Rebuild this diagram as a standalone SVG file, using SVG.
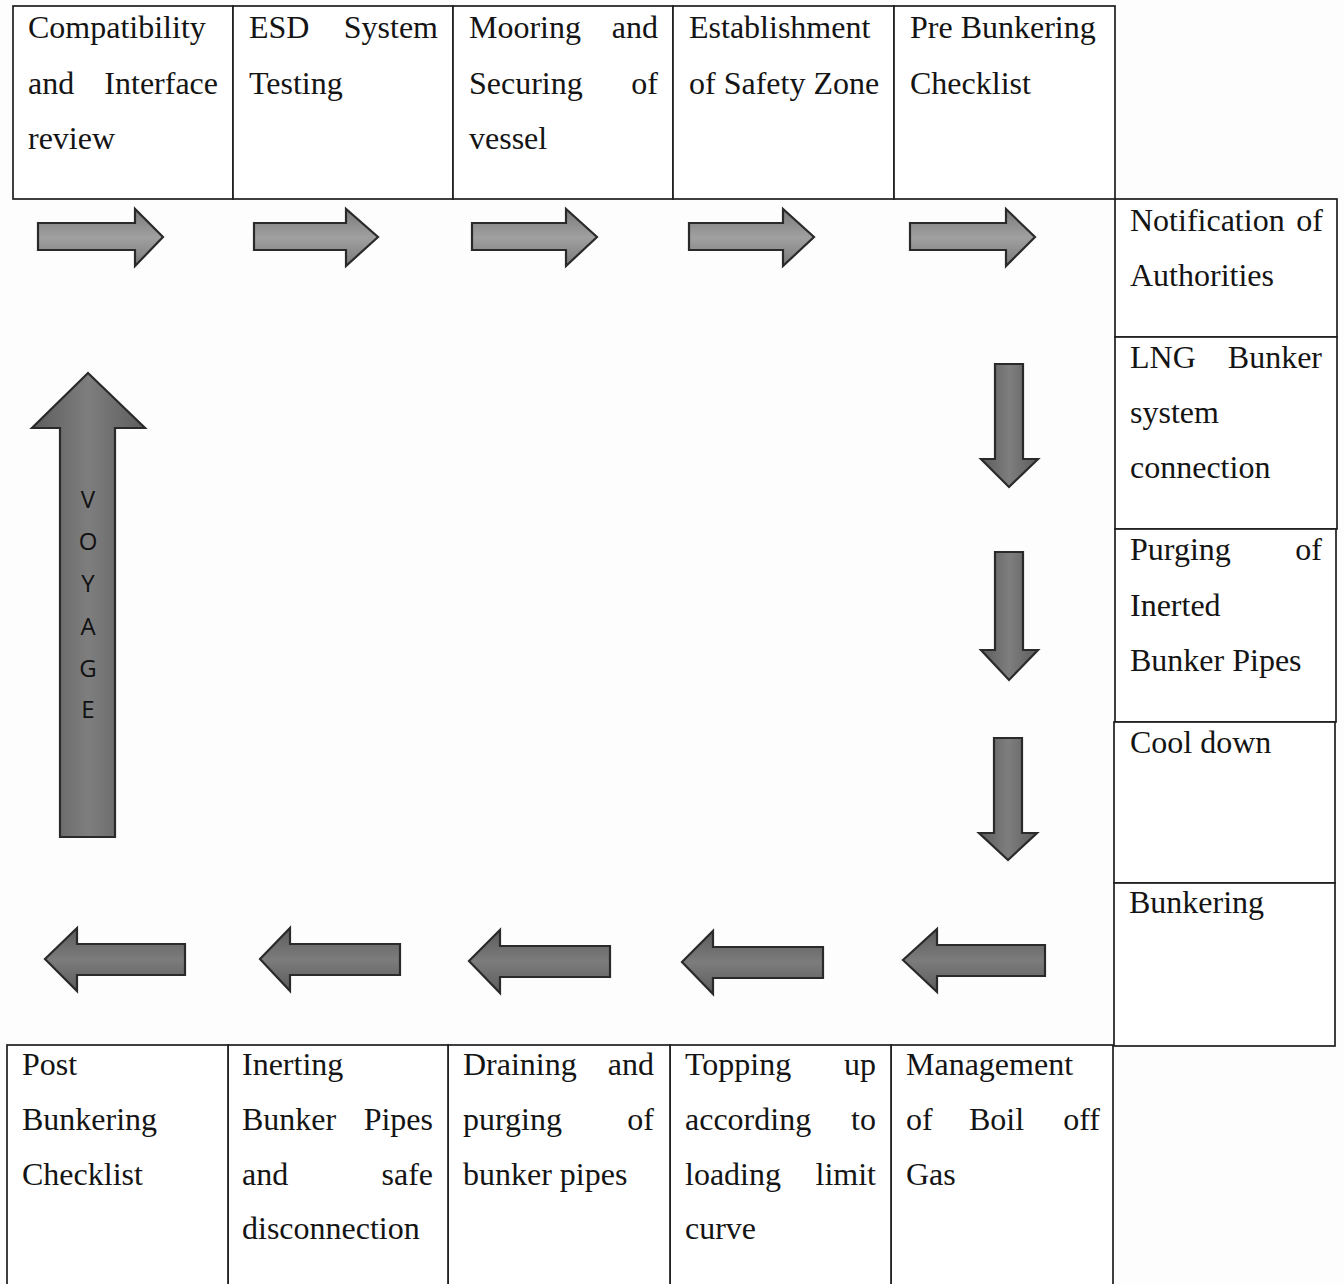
<svg xmlns="http://www.w3.org/2000/svg" width="1344" height="1284" viewBox="0 0 1344 1284">
<defs>
<linearGradient id="gh" x1="0" y1="0" x2="0" y2="1">
<stop offset="0" stop-color="#7a7a7a"/><stop offset="0.5" stop-color="#a0a0a0"/><stop offset="1" stop-color="#7a7a7a"/>
</linearGradient>
<linearGradient id="gd" x1="0" y1="0" x2="0" y2="1">
<stop offset="0" stop-color="#5c5c5c"/><stop offset="0.5" stop-color="#7c7c7c"/><stop offset="1" stop-color="#5c5c5c"/>
</linearGradient>
<linearGradient id="gv" x1="0" y1="0" x2="1" y2="0">
<stop offset="0" stop-color="#5c5c5c"/><stop offset="0.5" stop-color="#7e7e7e"/><stop offset="1" stop-color="#5c5c5c"/>
</linearGradient>
<style>
.cell{fill:#ffffff;stroke:#1e1e1e;stroke-width:1.7}
.t{font-family:"Liberation Serif","Times New Roman",serif;font-size:32px;fill:#141414}
.e{text-anchor:end}
.ah{fill:url(#gh);stroke:#2a2a2a;stroke-width:2.2;stroke-linejoin:miter}
.ad{fill:url(#gv);stroke:#2a2a2a;stroke-width:2.2}
.al{fill:url(#gd);stroke:#2a2a2a;stroke-width:2.2}
.v{font-family:"Open Sans","DejaVu Sans",sans-serif;font-size:24px;fill:#111;text-anchor:middle}
</style>
</defs>
<rect x="0" y="0" width="1344" height="1284" fill="#fdfdfd"/>

<g id="n1"><rect class="cell" x="13" y="6" width="220" height="193"/>
<text class="t" x="28" y="38">Compatibility</text>
<text class="t" x="28" y="94">and</text><text class="t e" x="218" y="94">Interface</text>
<text class="t" x="28" y="149">review</text></g>
<g id="n2"><rect class="cell" x="233" y="6" width="220" height="193"/>
<text class="t" x="249" y="38">ESD</text><text class="t e" x="438" y="38">System</text>
<text class="t" x="249" y="94">Testing</text></g>
<g id="n3"><rect class="cell" x="453" y="6" width="220" height="193"/>
<text class="t" x="469" y="38">Mooring</text><text class="t e" x="658" y="38">and</text>
<text class="t" x="469" y="94">Securing</text><text class="t e" x="658" y="94">of</text>
<text class="t" x="469" y="149">vessel</text></g>
<g id="n4"><rect class="cell" x="673" y="6" width="221" height="193"/>
<text class="t" x="689" y="38">Establishment</text>
<text class="t" x="689" y="94">of Safety Zone</text></g>
<g id="n5"><rect class="cell" x="894" y="6" width="221" height="193"/>
<text class="t" x="910" y="38">Pre Bunkering</text>
<text class="t" x="910" y="94">Checklist</text></g>

<g id="n6"><rect class="cell" x="1115" y="199" width="222" height="138"/>
<text class="t" x="1130" y="231">Notification</text><text class="t e" x="1323" y="231">of</text>
<text class="t" x="1130" y="286">Authorities</text></g>
<g id="n7"><rect class="cell" x="1115" y="337" width="222" height="192"/>
<text class="t" x="1130" y="368">LNG</text><text class="t e" x="1322" y="368">Bunker</text>
<text class="t" x="1130" y="423">system</text>
<text class="t" x="1130" y="478">connection</text></g>
<g id="n8"><rect class="cell" x="1115" y="529" width="221" height="193"/>
<text class="t" x="1130" y="560">Purging</text><text class="t e" x="1322" y="560">of</text>
<text class="t" x="1130" y="616">Inerted</text>
<text class="t" x="1130" y="671">Bunker Pipes</text></g>
<g id="n9"><rect class="cell" x="1114" y="722" width="221" height="161"/>
<text class="t" x="1130" y="753">Cool down</text></g>
<g id="n10"><rect class="cell" x="1114" y="883" width="221" height="163"/>
<text class="t" x="1129" y="913">Bunkering</text></g>

<g id="n11"><rect class="cell" x="891" y="1045" width="222" height="245"/>
<text class="t" x="906" y="1075">Management</text>
<text class="t" x="906" y="1130">of</text><text class="t" x="969" y="1130">Boil</text><text class="t e" x="1100" y="1130">off</text>
<text class="t" x="906" y="1185">Gas</text></g>
<g id="n12"><rect class="cell" x="670" y="1045" width="221" height="245"/>
<text class="t" x="685" y="1075">Topping</text><text class="t e" x="876" y="1075">up</text>
<text class="t" x="685" y="1130">according</text><text class="t e" x="876" y="1130">to</text>
<text class="t" x="685" y="1185">loading</text><text class="t e" x="876" y="1185">limit</text>
<text class="t" x="685" y="1239">curve</text></g>
<g id="n13"><rect class="cell" x="448" y="1045" width="222" height="245"/>
<text class="t" x="463" y="1075">Draining</text><text class="t e" x="654" y="1075">and</text>
<text class="t" x="463" y="1130">purging</text><text class="t e" x="654" y="1130">of</text>
<text class="t" x="463" y="1185">bunker pipes</text></g>
<g id="n14"><rect class="cell" x="228" y="1045" width="220" height="245"/>
<text class="t" x="242" y="1075">Inerting</text>
<text class="t" x="242" y="1130">Bunker</text><text class="t e" x="433" y="1130">Pipes</text>
<text class="t" x="242" y="1185">and</text><text class="t e" x="433" y="1185">safe</text>
<text class="t" x="242" y="1239">disconnection</text></g>
<g id="n15"><rect class="cell" x="7" y="1045" width="221" height="245"/>
<text class="t" x="22" y="1075">Post</text>
<text class="t" x="22" y="1130">Bunkering</text>
<text class="t" x="22" y="1185">Checklist</text></g>

<g id="connectors">
<path class="ah" d="M38,223 H135 V209 L163,237 L135,266 V250 H38 Z"/>
<path class="ah" d="M254,223 H346 V209 L378,237 L346,266 V250 H254 Z"/>
<path class="ah" d="M472,223 H566 V209 L597,237 L566,266 V250 H472 Z"/>
<path class="ah" d="M689,223 H783 V209 L814,237 L783,266 V250 H689 Z"/>
<path class="ah" d="M910,223 H1006 V209 L1035,237 L1006,266 V250 H910 Z"/>
<path class="ad" d="M995,364 H1023 V459 H1038 L1009,487 L981,459 H995 Z"/>
<path class="ad" d="M995,552 H1023 V650 H1038 L1009,680 L981,650 H995 Z"/>
<path class="ad" d="M994,738 H1022 V833 H1037 L1008,860 L979,833 H994 Z"/>
<path class="al" d="M1045,945 H937 V929 L903,960 L937,992 V976 H1045 Z"/>
<path class="al" d="M823,947 H713 V931 L682,962 L713,994 V978 H823 Z"/>
<path class="al" d="M610,946 H500 V930 L469,961 L500,993 V977 H610 Z"/>
<path class="al" d="M400,944 H290 V928 L260,959 L290,991 V975 H400 Z"/>
<path class="al" d="M185,944 H77 V928 L45,959 L77,991 V975 H185 Z"/>
<g id="voyage">
<path class="ad" d="M60,837 V428 H32 L88,373 L145,428 H115 V837 Z"/>
<text class="v" x="88" y="508">V</text>
<text class="v" x="88" y="550">O</text>
<text class="v" x="88" y="592">Y</text>
<text class="v" x="88" y="635">A</text>
<text class="v" x="88" y="677">G</text>
<text class="v" x="88" y="718">E</text>
</g>
</g>
</svg>
